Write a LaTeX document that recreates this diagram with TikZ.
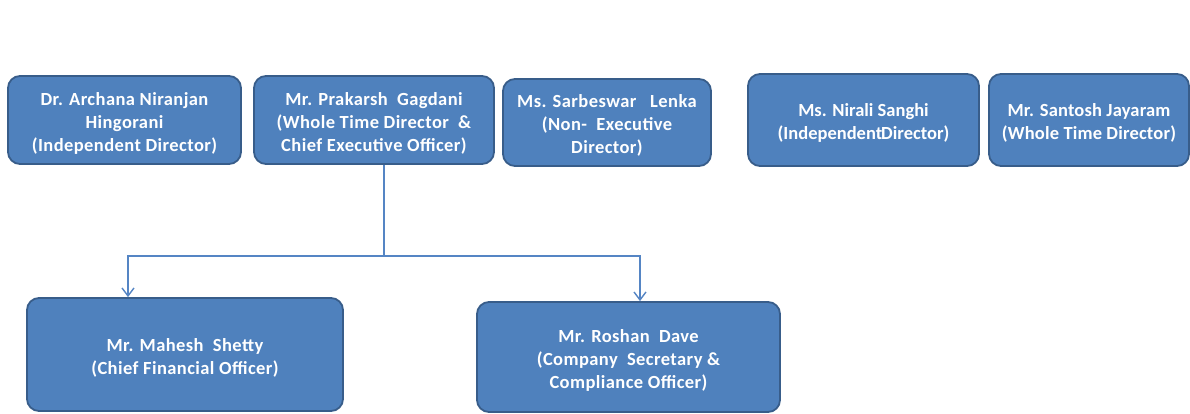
\documentclass[tikz,border=0pt]{standalone}
\usepackage{fontspec}
\setmainfont{Carlito}
\newfontfamily\spacedfont{Carlito}[LetterSpace=2.3]
\newfontfamily\tightfont{Carlito}[LetterSpace=0]
\newfontfamily\midfont{Carlito}[LetterSpace=1]
\usetikzlibrary{arrows.meta}
\definecolor{boxfill}{HTML}{4F81BD}
\definecolor{boxline}{HTML}{385D8A}
\definecolor{conn}{HTML}{5585C4}
\newcommand{\toppad}{\rule{0pt}{19pt}}
\begin{document}
\begin{tikzpicture}[x=1pt,y=-1pt,
  person/.style={draw=boxline, line width=1.8pt, fill=boxfill, rounded corners=12pt,
    text=white, align=center, font=\spacedfont\bfseries\fontsize{18.5}{23}\selectfont, inner sep=0pt},
  tight/.style={font=\tightfont\bfseries\fontsize{18.5}{23}\selectfont},
  mid/.style={font=\midfont\bfseries\fontsize{18.5}{23}\selectfont},
  conn/.style={draw=conn, line width=1.4pt},
  arr/.style={conn, -{Straight Barb[length=8pt,width=12pt]}}]
\useasboundingbox (0,0) rectangle (1190,414);
\fill[white] (0,0) rectangle (1190,414);
\node[person, minimum width=233pt, minimum height=88pt] (a) at (124.5,120) {\toppad Dr. Archana Niranjan\\Hingorani\\(Independent Director)};
\node[person, minimum width=240pt, minimum height=88pt] (p) at (374,120) {\toppad Mr. Prakarsh\ \ Gagdani\\(Whole Time Director\ \ \&\\Chief Executive Officer)};
\node[person, minimum width=208pt, minimum height=87pt] (s) at (607,122.5) {\toppad Ms. Sarbeswar\ \ \ Lenka\\(Non-\ \ Executive\\Director)};
\node[person, tight, minimum width=231pt, minimum height=92pt] (n) at (863.5,120) {\toppad Ms. Nirali Sanghi\\(Independent\hspace{-1pt}Director)};
\node[person, mid, minimum width=200pt, minimum height=92pt] (j) at (1089,120) {\toppad Mr. Santosh Jayaram\\(Whole Time Director)};
\node[person, minimum width=316pt, minimum height=113pt] (m) at (185,354.5) {\toppad Mr. Mahesh\ \ Shetty\\(Chief Financial\ Officer)};
\node[person, minimum width=303pt, minimum height=110pt] (r) at (628.5,357) {\toppad Mr. Roshan\ \ Dave\\(Company\ \ Secretary \&\\Compliance\ Officer)};
\coordinate (jn) at (384,256);
\draw[conn] (p.south -| jn) -- (jn);
\draw[arr] (jn) -| (m.north -| 128,0);
\draw[arr] (jn) -| (r.north -| 640,0);
\end{tikzpicture}
\end{document}
